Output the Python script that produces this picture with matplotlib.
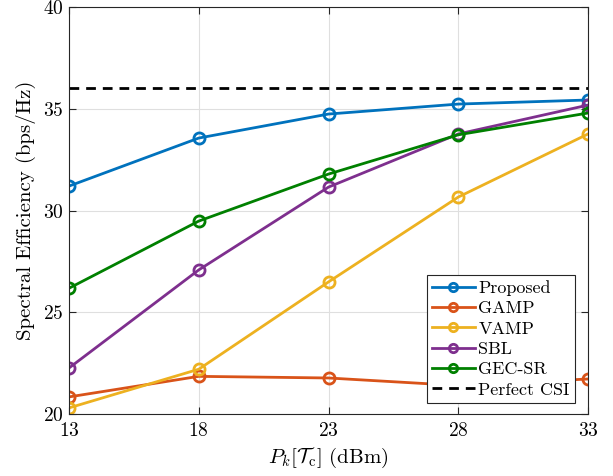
import matplotlib
matplotlib.use("Agg")
import matplotlib.pyplot as plt

plt.rcParams['font.family'] = 'serif'
plt.rcParams['font.serif'] = ['cmr10']
plt.rcParams['mathtext.fontset'] = 'cm'
plt.rcParams['axes.formatter.use_mathtext'] = True

x = [13, 18, 23, 28, 33]
proposed = [31.2, 33.56, 34.74, 35.23, 35.43]
gamp = [20.84, 21.85, 21.77, 21.4, 21.72]
vamp = [20.3, 22.2, 26.49, 30.66, 33.76]
sbl = [22.26, 27.08, 31.15, 33.76, 35.18]
gecsr = [26.18, 29.48, 31.79, 33.72, 34.79]
perfect = 36.0

labels = ['Proposed', 'GAMP', 'VAMP', 'SBL', 'GEC-SR', 'Perfect CSI']
colors = ['#0072BD', '#D95319', '#EDB120', '#7E2F8E', '#008000']

fig = plt.figure(figsize=(6.13, 4.76), dpi=100)
ax = fig.add_axes([69/613, 1-414/476, (588-69)/613, (414-7)/476])

for ys, c, lab in zip([proposed, gamp, vamp, sbl, gecsr], colors, labels[:5]):
    ax.plot(x, ys, color=c, lw=2, marker='o', ms=8, mfc='none', mew=2, label=lab)
ax.plot([x[0], x[-1]], [perfect, perfect], 'k--', lw=2, dashes=(3.5, 2.5), label=labels[5])

ax.set_xlim(13, 33)
ax.set_ylim(20, 40)
ax.set_xticks(x)
ax.set_yticks([20, 25, 30, 35, 40])
ax.grid(True, color='#dfdfdf', lw=0.8)
ax.set_axisbelow(True)
ax.tick_params(direction='in', top=True, right=True, labelsize=14, length=5, color='#262626')
ax.tick_params(axis='x', pad=6)
ax.tick_params(axis='y', pad=4)
for s in ax.spines.values():
    s.set_color('#262626')
    s.set_linewidth(0.8)
ax.set_xlabel(r'$P_k[\mathcal{T}_\mathrm{c}]$ (dBm)', fontsize=15, labelpad=4)
ax.set_ylabel('Spectral Efficiency (bps/Hz)', fontsize=15, labelpad=5)
leg = ax.legend(loc='lower right', bbox_to_anchor=(0.975, 0.027), borderaxespad=0,
                fontsize=13, fancybox=False, framealpha=1,
                edgecolor='#262626', handlelength=2.35,
                labelspacing=0.26, handletextpad=0.2, borderpad=0.3,
                markerscale=0.75)
leg.get_frame().set_linewidth(0.8)

fig.savefig('out.png', dpi=100)
